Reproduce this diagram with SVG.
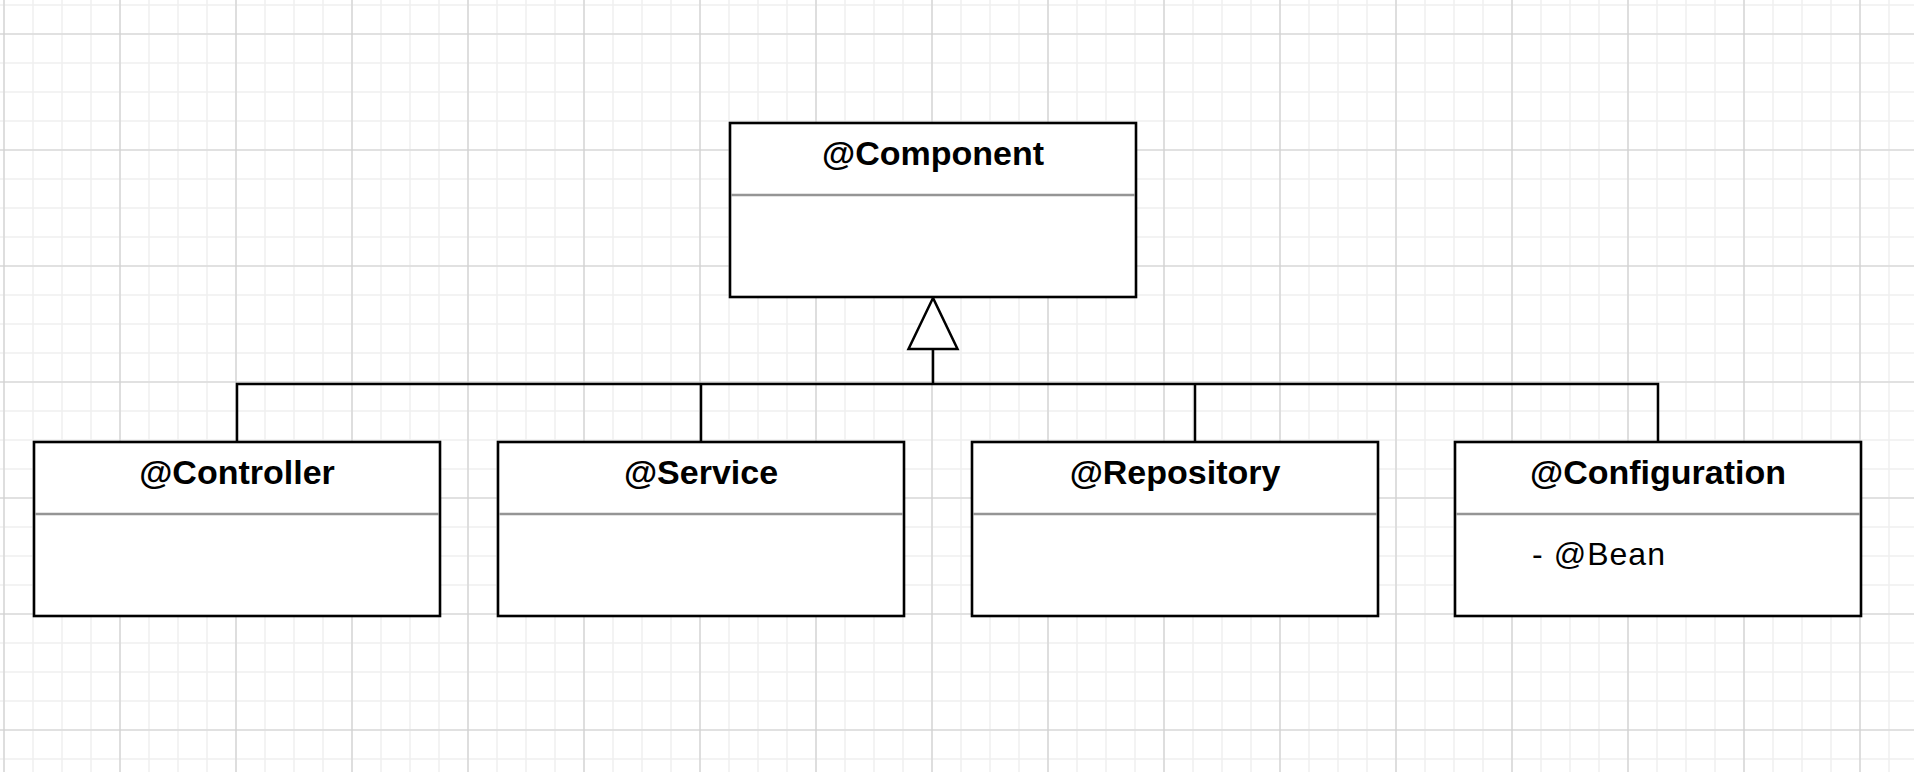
<svg xmlns="http://www.w3.org/2000/svg" width="1914" height="772" viewBox="0 0 1914 772">
<defs>
<pattern id="minor" patternUnits="userSpaceOnUse" x="3" y="4" width="29" height="29">
<path d="M1 0V29M0 1H29" stroke="#f0f0f0" stroke-width="1.6" fill="none"/>
</pattern>
<pattern id="major" patternUnits="userSpaceOnUse" x="3" y="33" width="116" height="116">
<path d="M1 0V116M0 1H116" stroke="#d0d0d0" stroke-width="1.2" fill="none"/>
</pattern>
</defs>
<style>
.box{fill:#ffffff;stroke:#000000;stroke-width:2.6}
.div{stroke:#959595;stroke-width:2.4}
.title{font-family:"Liberation Sans",Arial,Helvetica,sans-serif;font-weight:bold;font-size:34px;fill:#000;text-anchor:middle}
.attr{font-family:"Liberation Sans",Arial,Helvetica,sans-serif;font-size:32px;fill:#000}
.conn{stroke:#000;stroke-width:2.5;fill:none}
</style>
<rect width="1914" height="772" fill="#ffffff"/>
<rect width="1914" height="772" fill="url(#minor)"/>
<rect width="1914" height="772" fill="url(#major)"/>
<g id="connectors">
<path class="conn" d="M237 442V384H1658V442M701 384V442M1195 384V442M933 384V349"/>
<polygon points="933,298 908.5,349 957.5,349" fill="#ffffff" stroke="#000" stroke-width="2.5"/>
</g>
<g id="component">
<rect class="box" x="730" y="123" width="406" height="174"/>
<line class="div" x1="731" y1="195" x2="1135" y2="195"/>
<text class="title" x="933" y="165">@Component</text>
</g>
<g id="controller">
<rect class="box" x="34" y="442" width="406" height="174"/>
<line class="div" x1="35" y1="514" x2="439" y2="514"/>
<text class="title" x="237" y="484">@Controller</text>
</g>
<g id="service">
<rect class="box" x="498" y="442" width="406" height="174"/>
<line class="div" x1="499" y1="514" x2="903" y2="514"/>
<text class="title" x="701" y="484">@Service</text>
</g>
<g id="repository">
<rect class="box" x="972" y="442" width="406" height="174"/>
<line class="div" x1="973" y1="514" x2="1377" y2="514"/>
<text class="title" x="1175" y="484">@Repository</text>
</g>
<g id="configuration">
<rect class="box" x="1455" y="442" width="406" height="174"/>
<line class="div" x1="1456" y1="514" x2="1860" y2="514"/>
<text class="title" x="1658" y="484">@Configuration</text>
<text class="attr" x="1532" y="565" textLength="133" lengthAdjust="spacing">- @Bean</text>
</g>
</svg>
